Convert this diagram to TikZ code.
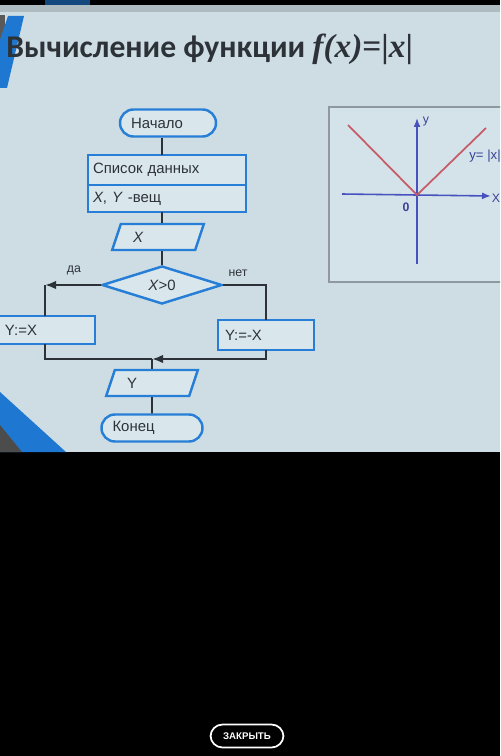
\documentclass[tikz,border=0pt]{standalone}
\usepackage{fontspec}
\setmainfont{Liberation Sans}
\newfontfamily\titlefont{Carlito}
\newfontfamily\formfont{Liberation Serif}
\usetikzlibrary{arrows.meta,positioning,calc,shapes.geometric}
\definecolor{pantalla}{RGB}{205,221,227}
\definecolor{caja}{RGB}{217,231,237}
\definecolor{rama}{RGB}{38,126,214}
\definecolor{tinta}{RGB}{45,50,56}
\definecolor{marco}{RGB}{142,152,158}
\definecolor{eje}{RGB}{72,82,190}
\definecolor{modulo}{RGB}{198,92,104}
\definecolor{franja}{RGB}{30,120,210}

\begin{document}
\begin{tikzpicture}[x=0.2mm,y=-0.2mm,
term/.style={draw=rama,line width=1.4pt,rounded corners=2.7mm,fill=caja,minimum height=5.4mm,inner ysep=0pt,align=left,font=\fontsize{8.5}{10}\selectfont,text=tinta},
bloque/.style={draw=rama,line width=1.4pt,fill=caja,inner ysep=0pt,outer sep=0pt,align=left,font=\fontsize{8.5}{10}\selectfont,text=tinta},
datos/.style={trapezium,trapezium left angle=55,trapezium right angle=125,trapezium stretches=true,draw=rama,line width=1.4pt,fill=caja,minimum width=18.4mm,minimum height=5.2mm,inner ysep=0pt,text width=10mm,align=left,font=\fontsize{8.5}{10}\selectfont\itshape,text=tinta},
rombo/.style={diamond,draw=rama,line width=1.4pt,fill=caja,minimum width=24mm,minimum height=7.4mm,inner sep=0pt,font=\fontsize{8.5}{10}\selectfont,text=tinta},
line/.style={draw=tinta,line width=1.1pt},
flow/.style={line,-{Latex[length=2.2mm,width=1.7mm]}},
rot/.style={font=\fontsize{7}{8}\selectfont,text=tinta},
eje/.style={draw=eje,line width=0.9pt,-{Latex[length=1.8mm,width=1.4mm]}},
ejelbl/.style={font=\fontsize{7}{8}\selectfont,text=eje!80!black}
]
\clip (0,0) rectangle (500,756);
% photo of the screen and the black area below it
\fill[black] (0,0) rectangle (500,756);
\fill[pantalla] (0,5) rectangle (500,452);
\fill[pantalla!85!black] (0,5) rectangle (500,12);
\fill[franja!60!black] (45,0) rectangle (90,5);
\fill[black!65] (0,15) rectangle (5,42);
\fill[franja] (8,16) -- (24,16) -- (7,88) -- (0,88) -- (0,40) -- cycle;
\fill[franja] (0,392) -- (66,452) -- (0,452) -- cycle;
\fill[black!70] (0,425) -- (22,452) -- (0,452) -- cycle;

% title
\node[anchor=base west,inner sep=0pt,text=tinta] (title) at (6,58)
  {\titlefont\bfseries\fontsize{18}{22}\selectfont Вычисление функции \formfont\fontsize{19}{22}\selectfont\itshape f(x)\upshape=|\itshape x\upshape|};

% flowchart
\node[term,minimum width=19.2mm,text width=14.8mm,inner xsep=2.2mm] (start) at (168,123) {Начало};
\node[bloque,minimum height=6mm,text width=29.6mm,inner xsep=1mm] (data1) at (167,170) {Список данных};
\node[bloque,minimum height=5.4mm,text width=29.6mm,inner xsep=1mm,below=0pt of data1] (data2) {\textit{X}, \textit{Y} -вещ};
\node[datos] (inX) at (158,237) {X};
\node[rombo] (cond) at (162,285) {\textit{X}>0};
\node[bloque,minimum height=5.6mm,text width=16mm,inner xsep=2mm] (yes) at (45,330) {Y:=X};
\node[bloque,minimum height=6mm,text width=16.4mm,inner xsep=1.4mm] (no) at (266,335) {Y:=-X};
\node[datos,font=\fontsize{8.5}{10}\selectfont] (outY) at (152,383) {Y};
\node[term,minimum width=20.2mm,text width=15.8mm,inner xsep=2.2mm] (stop) at (152,428) {Конец};

\node[rot] (yeslbl) at (74,270) {да};
\node[rot] (nolbl) at (238,273) {нет};

\coordinate (bendL) at (yes.north |- cond.west);
\coordinate (join) at (152,359);

\draw[line] (start.south -| cond.north) -- (data1.north -| cond.north);
\draw[line] (data2.south -| cond.north) -- (inX.north -| cond.north);
\draw[line] (inX.south -| cond.north) -- (cond.north);
\draw[flow] (cond.west) -- (bendL);
\draw[line] (bendL) -- (yes.north);
\draw[line] (cond.east) -| (no.north);
\draw[line] (yes.south) |- (join);
\draw[flow] (no.south) |- (join);
\draw[line] (join) -- (outY.north);
\draw[line] (outY.south) -- (stop.north);

% graph of y=|x|
\draw[marco,line width=0.8pt,fill=caja!60!pantalla] (329,107) rectangle (510,282);
\coordinate (O) at (417,195);
\coordinate (xend) at (491,196);
\coordinate (yend) at (417,118);
\coordinate (xbeg) at (342,194);
\coordinate (ybeg) at (417,264);
\draw[eje] (xbeg) -- (xend);
\draw[eje] (ybeg) -- (yend);
\draw[modulo,line width=1pt] (348,125) -- (O) -- (486,128);
\node[ejelbl] (ylbl) at (426,122) {y};
\node[ejelbl] (xlbl) at (496,198) {X};
\node[ejelbl,font=\fontsize{7}{8}\selectfont\bfseries] (olbl) at (406,207) {0};
\node[ejelbl,anchor=west,inner sep=0pt,font=\fontsize{7.5}{8}\selectfont] (flbl) at (469,156) {y= |x|};

% close button
\node[draw=white,line width=1pt,rounded corners=2.4mm,minimum width=14.6mm,minimum height=4.6mm,inner sep=0pt,text=white,font=\fontsize{5.5}{6}\selectfont\bfseries] (close) at (247,736) {ЗАКРЫТЬ};
\end{tikzpicture}
\end{document}
